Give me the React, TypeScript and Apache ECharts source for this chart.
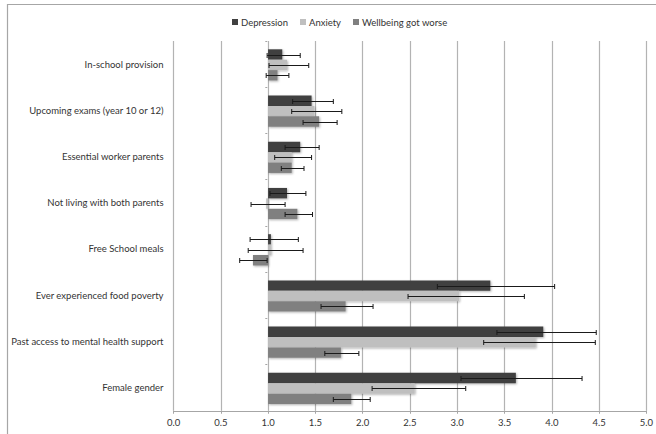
import React, { useEffect, useRef } from "react";
import * as echarts from "echarts";

const categories = [
  "In-school provision",
  "Upcoming exams (year 10 or 12)",
  "Essential worker parents",
  "Not living with both parents",
  "Free School meals",
  "Ever experienced food poverty",
  "Past access to mental health support",
  "Female gender",
];
const seriesNames = ["Depression", "Anxiety", "Wellbeing got worse"];
const depression = [1.15, 1.46, 1.34, 1.2, 1.03, 3.35, 3.91, 3.62];
const depressionLow = [0.99, 1.26, 1.18, 1.02, 0.81, 2.79, 3.42, 3.04];
const depressionHigh = [1.34, 1.69, 1.54, 1.4, 1.32, 4.03, 4.47, 4.32];
const anxiety = [1.2, 1.49, 1.25, 0.98, 1.03, 3.02, 3.83, 2.55];
const anxietyLow = [1.01, 1.25, 1.07, 0.82, 0.79, 2.48, 3.28, 2.1];
const anxietyHigh = [1.43, 1.78, 1.46, 1.18, 1.37, 3.71, 4.46, 3.09];
const wellbeing = [1.1, 1.54, 1.25, 1.31, 0.84, 1.82, 1.77, 1.88];
const wellbeingLow = [0.98, 1.37, 1.14, 1.18, 0.7, 1.56, 1.6, 1.69];
const wellbeingHigh = [1.22, 1.73, 1.38, 1.47, 0.99, 2.11, 1.96, 2.08];
const xTicks = ["0.0", "0.5", "1.0", "1.5", "2.0", "2.5", "3.0", "3.5", "4.0", "4.5", "5.0"];

const colors = ["#404040", "#bfbfbf", "#808080"];
const FONT = "Lato";
const BASE = 1;

export default function App() {
  const ref = useRef<HTMLDivElement>(null);
  useEffect(() => {
    if (!ref.current) return;
    const chart = echarts.init(ref.current, null, { renderer: "svg" });
    const values = [depression, anxiety, wellbeing];
    const lows = [depressionLow, anxietyLow, wellbeingLow];
    const highs = [depressionHigh, anxietyHigh, wellbeingHigh];
    const frac = 0.225;

    const barSeries = values.map((vals, idx) => ({
      type: "custom",
      name: seriesNames[idx],
      itemStyle: { color: colors[idx] },
      encode: { x: 1, y: 0 },
      data: vals.map((v, i) => [i, v]),
      z: 2,
      renderItem: (params: any, api: any) => {
        const cat = api.value(0);
        const v = api.value(1);
        const base = api.coord([BASE, cat]);
        const end = api.coord([v, cat]);
        const band = api.size([0, 1])[1];
        const h = band * frac;
        const y0 = base[1] - 1.5 * h + idx * h + 0.8;
        return {
          type: "rect",
          shape: {
            x: Math.min(base[0], end[0]),
            y: y0,
            width: Math.abs(end[0] - base[0]),
            height: h,
          },
          style: {
            fill: colors[idx],
            shadowBlur: 2,
            shadowColor: "rgba(0,0,0,0.3)",
            shadowOffsetX: 1,
            shadowOffsetY: 1,
          },
        };
      },
    }));

    const errData: number[][] = [];
    values.forEach((vals, idx) => {
      vals.forEach((_, i) => {
        errData.push([i, idx, lows[idx][i], highs[idx][i]]);
      });
    });

    const errSeries = {
      type: "custom",
      name: "err",
      encode: { x: [2, 3], y: 0 },
      data: errData,
      z: 5,
      silent: true,
      renderItem: (params: any, api: any) => {
        const cat = api.value(0);
        const idx = api.value(1);
        const lo = api.coord([api.value(2), cat]);
        const hi = api.coord([api.value(3), cat]);
        const band = api.size([0, 1])[1];
        const h = band * frac;
        const y = Math.round(lo[1] - 1.5 * h + idx * h + h / 2 + 0.8) + 0.5;
        const cap = 2.5;
        const st = { stroke: "#1a1a1a", lineWidth: 1 };
        return {
          type: "group",
          children: [
            { type: "line", shape: { x1: lo[0], y1: y, x2: hi[0], y2: y }, style: st },
            { type: "line", shape: { x1: lo[0], y1: y - cap, x2: lo[0], y2: y + cap }, style: st },
            { type: "line", shape: { x1: hi[0], y1: y - cap, x2: hi[0], y2: y + cap }, style: st },
          ],
        };
      },
    };

    chart.setOption({
      animation: false,
      backgroundColor: "#ffffff",
      textStyle: { fontFamily: FONT },
      legend: {
        data: seriesNames,
        left: 227,
        top: 12,
        icon: "rect",
        itemWidth: 6,
        itemHeight: 6,
        itemGap: 12,
        textStyle: { fontFamily: FONT, fontSize: 9.5, color: "#333333", padding: [0, 0, 0, -2] },
      },
      graphic: [
        {
          type: "rect",
          shape: { x: 7.5, y: 4.5, width: 800, height: 600 },
          style: { fill: "none", stroke: "#a6a6a6", lineWidth: 1.2 },
          silent: true,
        },
      ],
      grid: { left: 173.5, right: 9.5, top: 41, bottom: 23.25, containLabel: false },
      xAxis: {
        type: "value",
        min: 0,
        max: 5,
        interval: 0.5,
        axisLine: { show: true, lineStyle: { color: "#a6a6a6", width: 1 } },
        axisTick: { show: true, length: 3, lineStyle: { color: "#a6a6a6" } },
        splitLine: { show: true, lineStyle: { color: "#b3b3b3", width: 1.2 } },
        axisLabel: {
          fontFamily: FONT,
          fontSize: 9.5,
          color: "#333333",
          margin: 7,
          formatter: (v: number) => xTicks[Math.round(v / 0.5)] ?? v.toFixed(1),
        },
      },
      yAxis: [
        {
          type: "category",
          data: categories,
          inverse: true,
          axisLine: { show: false },
          axisTick: { show: false },
          splitLine: { show: false },
          axisLabel: { fontFamily: FONT, fontSize: 9.5, color: "#333333", margin: 10 },
        },
        {
          type: "category",
          data: categories,
          inverse: true,
          position: "left",
          offset: -93.8,
          axisLine: { show: false },
          axisTick: { show: true, length: 2, lineStyle: { color: "#a6a6a6" } },
          axisLabel: { show: false },
          splitLine: { show: false },
        },
      ],
      series: [...barSeries, errSeries],
    });
    return () => chart.dispose();
  }, []);
  return (
    <div
      ref={ref}
      style={{ position: "fixed", left: 0, top: 0, width: 656, height: 434, background: "#fff" }}
    />
  );
}
